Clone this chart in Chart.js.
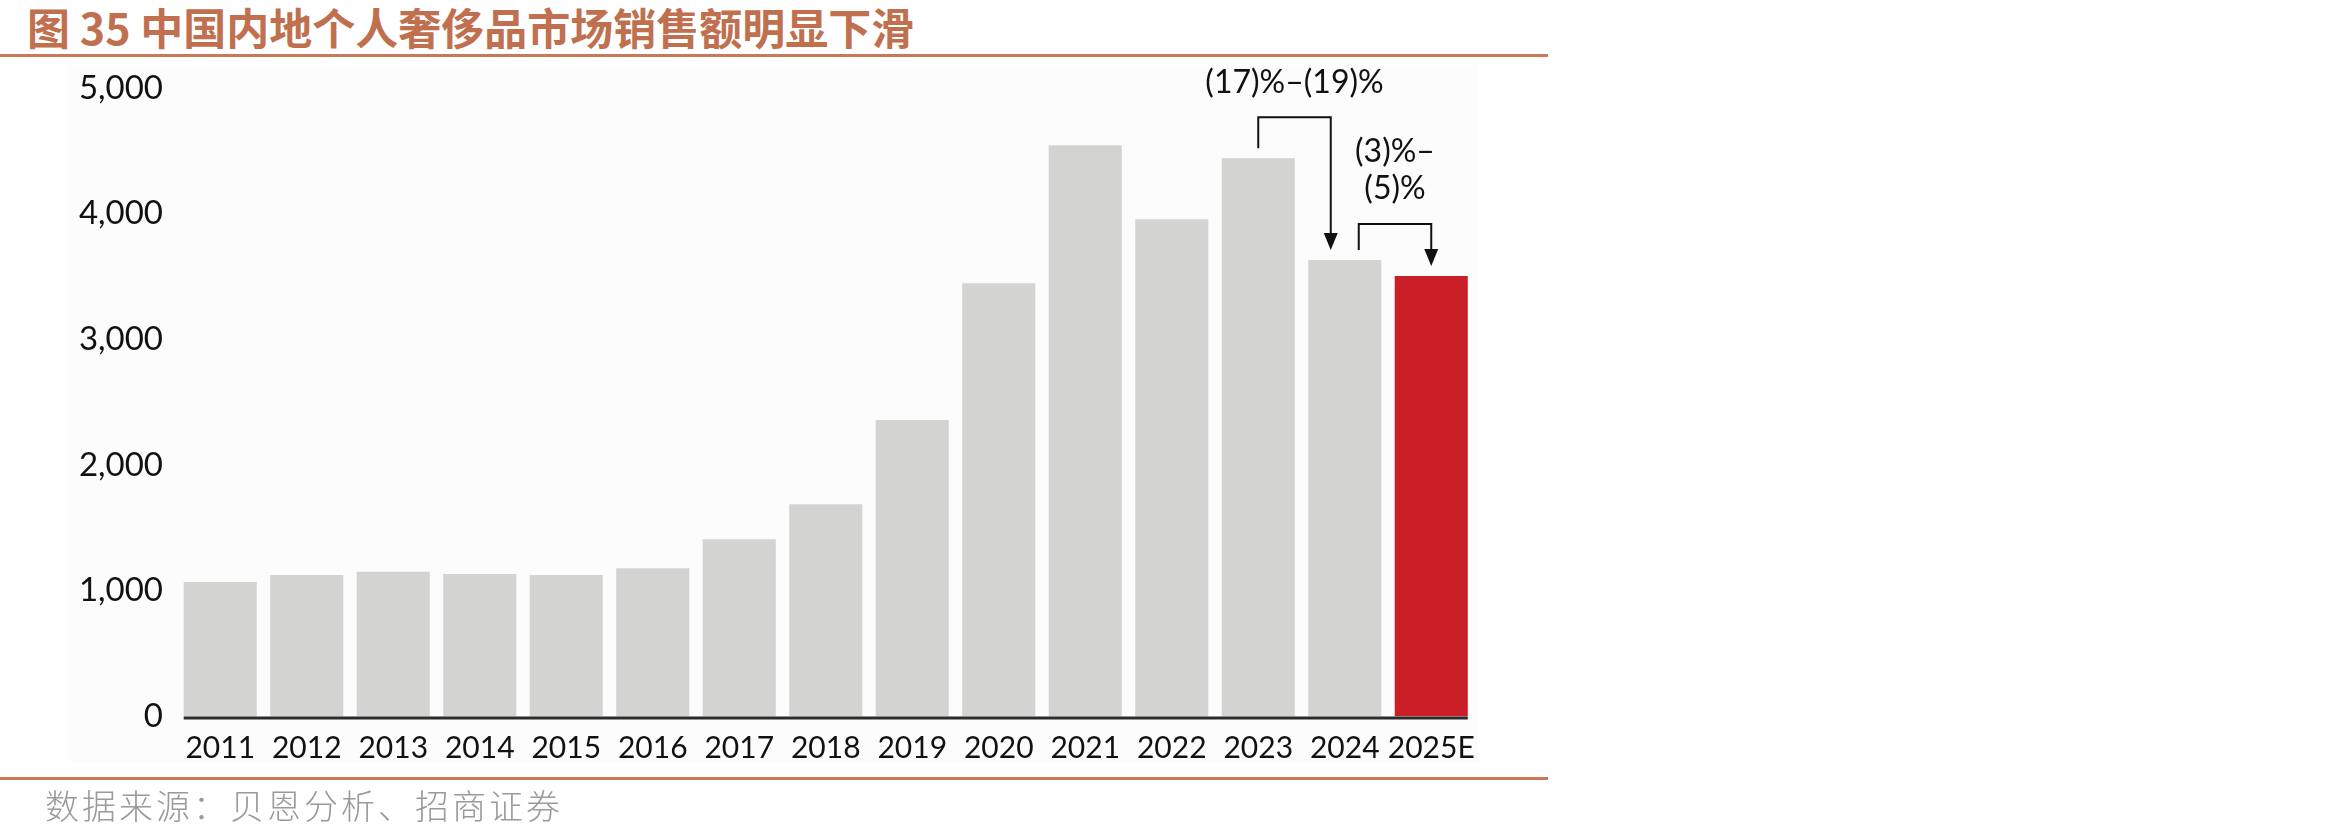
<!DOCTYPE html>
<html>
<head>
<meta charset="utf-8">
<script src="https://cdn.jsdelivr.net/npm/chart.js@4.4.1/dist/chart.umd.min.js"></script>
<style>
  html, body { margin: 0; padding: 0; background: #fff; }
  body { width: 2349px; height: 837px; position: relative; overflow: hidden; }
  #title { position: absolute; left: 27px; top: 0; font: 700 43px "Noto Sans CJK SC", sans-serif; color: #C0704F; line-height: 52px; white-space: nowrap; }
  .rule { position: absolute; left: 0; width: 1548px; height: 3px; background: #C97858; }
  #panel { position: absolute; left: 68px; top: 65px; width: 1410px; height: 697px; background: #FCFCFC; }
  #source { position: absolute; left: 45px; top: 785px; font: 300 34px "Noto Sans CJK SC", sans-serif; letter-spacing: 3px; color: #9a9a9a; line-height: 40px; white-space: nowrap; }
  #c { position: absolute; left: 0; top: 0; }
</style>
</head>
<body>
<div id="title">图 35 中国内地个人奢侈品市场销售额明显下滑</div>
<div class="rule" style="top:54px"></div>
<div id="panel"></div>
<canvas id="c" width="1560" height="837"></canvas>
<div class="rule" style="top:777px"></div>
<div id="source">数据来源：贝恩分析、招商证券</div>
<script>
// data
const years = ['2011', '2012', '2013', '2014', '2015', '2016', '2017', '2018', '2019', '2020', '2021', '2022', '2023', '2024', '2025E'];
const sales = [1070, 1126, 1152, 1134, 1126, 1179, 1410, 1688, 2359, 3446, 4544, 3955, 4441, 3632, 3504];
const yTicks = [0, 1000, 2000, 3000, 4000, 5000];
const changeFrom = [12, 13];
const changeTo = [13, 14];
const changeLabels = [['(17)%–(19)%'], ['(3)%–', '(5)%']];

const GREY = '#D3D3D2';
const RED = '#CB1F27';
const barColors = years.map(y => y.endsWith('E') ? RED : GREY);

// base line only under the bars
const baseLine = {
  id: 'baseLine',
  afterDatasetsDraw(chart) {
    const ctx = chart.ctx;
    const bars = chart.getDatasetMeta(0).data;
    const first = bars[0], last = bars[bars.length - 1];
    const y0 = chart.scales.y.getPixelForValue(0);
    const x1 = first.x - first.width / 2;
    const x2 = last.x + last.width / 2;
    ctx.save();
    ctx.fillStyle = '#2b2b2b';
    ctx.fillRect(x1, y0, x2 - x1, 3);
    ctx.restore();
  }
};

// bracket arrows with the change labels
const changeArrows = {
  id: 'changeArrows',
  afterDatasetsDraw(chart) {
    const ctx = chart.ctx;
    const bars = chart.getDatasetMeta(0).data;
    ctx.save();
    ctx.strokeStyle = '#111';
    ctx.fillStyle = '#111';
    ctx.lineWidth = 2;
    changeFrom.forEach((f, i) => {
      const a = bars[f], b = bars[changeTo[i]];
      const xL = i === 0 ? a.x : a.x + 14;
      const xR = i === 0 ? b.x - 14 : b.x;
      const startY = a.y - 10;
      const topY = a.y - (i === 0 ? 41 : 36);
      const tipY = b.y - 10;
      ctx.beginPath();
      ctx.moveTo(xL, startY);
      ctx.lineTo(xL, topY);
      ctx.lineTo(xR, topY);
      ctx.lineTo(xR, tipY - 14);
      ctx.stroke();
      ctx.beginPath();
      ctx.moveTo(xR - 7, tipY - 17);
      ctx.lineTo(xR + 7, tipY - 17);
      ctx.lineTo(xR, tipY);
      ctx.closePath();
      ctx.fill();

      ctx.font = '32px Lato, "Liberation Sans", sans-serif';
      ctx.textAlign = 'center';
      ctx.textBaseline = 'middle';
      const lines = changeLabels[i];
      const cx = (xL + xR) / 2;
      lines.forEach((t, k) => {
        ctx.fillText(t, cx, topY - 35 - (lines.length - 1 - k) * 37);
      });
    });
    ctx.restore();
  }
};

new Chart(document.getElementById('c'), {
  type: 'bar',
  data: {
    labels: years,
    datasets: [{
      data: sales,
      backgroundColor: barColors,
      borderWidth: 0,
      categoryPercentage: 1,
      barPercentage: 0.845
    }]
  },
  options: {
    responsive: false,
    animation: false,
    layout: { padding: { left: 0, right: 85.5, top: 88, bottom: 60.5 } },
    plugins: { legend: { display: false }, tooltip: { enabled: false } },
    scales: {
      x: {
        grid: { display: false, drawTicks: false },
        border: { display: false },
        ticks: {
          autoSkip: false, maxRotation: 0, padding: 14, color: '#111',
          font: { family: 'Lato, "Liberation Sans", sans-serif', size: 30 }
        },
        afterFit(scale) { scale.height = 60; }
      },
      y: {
        min: 0, max: 5000,
        grid: { display: false, drawTicks: false },
        border: { display: false },
        afterBuildTicks(scale) { scale.ticks = yTicks.map(v => ({ value: v })); },
        ticks: {
          padding: 14, color: '#111',
          font: { family: 'Lato, "Liberation Sans", sans-serif', size: 33 },
          callback: v => v.toLocaleString('en-US')
        },
        afterFit(scale) { scale.width = 177; }
      }
    }
  },
  plugins: [baseLine, changeArrows]
});
</script>
</body>
</html>
